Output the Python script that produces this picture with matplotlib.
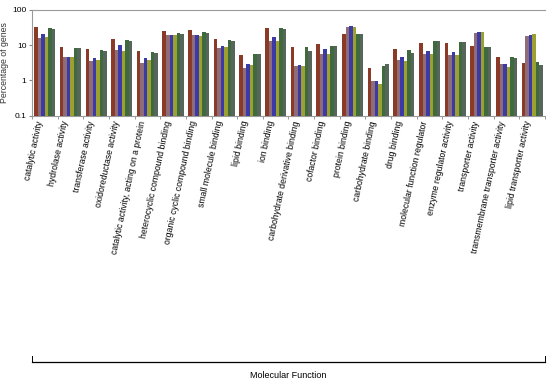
import matplotlib

matplotlib.use("Agg")
import matplotlib.pyplot as plt
import numpy as np

plt.rcParams["font.family"] = ["Liberation Sans", "DejaVu Sans"]

categories = [
    "catalytic activity", "hydrolase activity", "transferase activity",
    "oxidoreductase activity", "catalytic activity, acting on a protein",
    "heterocyclic compound binding", "organic cyclic compound binding",
    "small molecule binding", "lipid binding", "ion binding",
    "carbohydrate derivative binding", "cofactor binding", "protein binding",
    "carbohydrate binding", "drug binding", "molecular function regulator",
    "enzyme regulator activity", "transporter activity",
    "transmembrane transporter activity", "lipid transporter activity",
]

# percentage of genes, one list per sample
sample_1 = [33, 8.9, 7.6, 15, 6.9, 25, 26, 14.7, 5.3, 31, 8.7, 10.8, 20, 2.1, 7.6, 11.3, 11.3, 9.1, 4.6, 3.1]
sample_2 = [16, 4.6, 3.4, 7.3, 3.1, 19.5, 19.5, 8.1, 2.2, 12.6, 2.4, 5.6, 33, 0.87, 3.8, 5.6, 5.3, 22.5, 2.85, 18]
sample_3 = [21, 4.6, 4.3, 10, 4.1, 19, 19.5, 9.1, 2.8, 17, 2.6, 7.6, 35, 0.87, 4.6, 6.5, 6.3, 23, 2.85, 19.5]
sample_4 = [16.6, 4.5, 3.6, 6.9, 3.6, 19, 18.5, 8.5, 2.6, 13, 2.5, 5.5, 33, 0.67, 3.4, 5.6, 5.3, 23.5, 2.3, 20]
sample_5 = [31, 8.1, 7.3, 14, 6.3, 22.5, 24, 14, 5.5, 30, 8.5, 9.5, 21, 2.46, 7.3, 12.6, 12, 8.7, 4.6, 3.2]
sample_6 = [29, 8.1, 6.9, 12.6, 5.9, 21, 22.5, 13.4, 5.5, 28, 6.9, 9.1, 20, 2.75, 5.9, 12.6, 12, 8.7, 4.3, 2.6]

series = [sample_1, sample_2, sample_3, sample_4, sample_5, sample_6]
colors = ["#8c3a28", "#8e6c78", "#3b3aa6", "#9ba031", "#3f6a3e", "#56665a"]

fig = plt.figure(figsize=(5.5, 3.9), dpi=100)
ax = fig.add_axes([0.058, 0.703, 0.933, 0.272])

n = len(series)
width = 0.82 / n
x = np.arange(len(categories))
for i, (vals, c) in enumerate(zip(series, colors)):
    ax.bar(x - 0.41 + width * (i + 0.5), vals, width=width, color=c, bottom=0.1, zorder=3)

ax.set_yscale("log")
ax.set_ylim(0.1, 100)
ax.set_xlim(-0.5, len(categories) - 0.5)
ax.set_yticks([0.1, 1, 10, 100])
ax.set_yticklabels(["0.1", "1", "10", "100"], fontsize=6)
ax.yaxis.set_minor_locator(matplotlib.ticker.NullLocator())
ax.set_ylabel("Percentage of genes", fontsize=6.3, color="#333333")
ax.yaxis.set_label_coords(-0.045, 0.5)

ax.set_xticks(x)
ax.set_xticklabels(categories, rotation=78, ha="right", fontsize=6.2)
ax.set_xticks(np.arange(len(categories) + 1) - 0.5, minor=True)
ax.tick_params(axis="x", which="major", length=0, pad=3)
ax.tick_params(axis="x", which="minor", length=2, color="#888888")
ax.tick_params(axis="y", length=2, color="#888888", pad=2)

for s in ("top", "left", "bottom"):
    ax.spines[s].set_color("#9a9a9a")
ax.spines["right"].set_visible(False)

# group bracket at the bottom
x0, x1, yb = 32 / 550, 545 / 550, 1 - 362 / 390
fig.add_artist(plt.Line2D([x0, x1], [yb, yb], color="black", lw=0.9))
for xe in (x0, x1):
    fig.add_artist(plt.Line2D([xe, xe], [yb, yb + 0.015], color="black", lw=0.7))
fig.text((x0 + x1) / 2, 1 - 376 / 390, "Molecular Function", ha="center", va="center", fontsize=6.5)

fig.savefig("out.png", dpi=100, facecolor="white")
